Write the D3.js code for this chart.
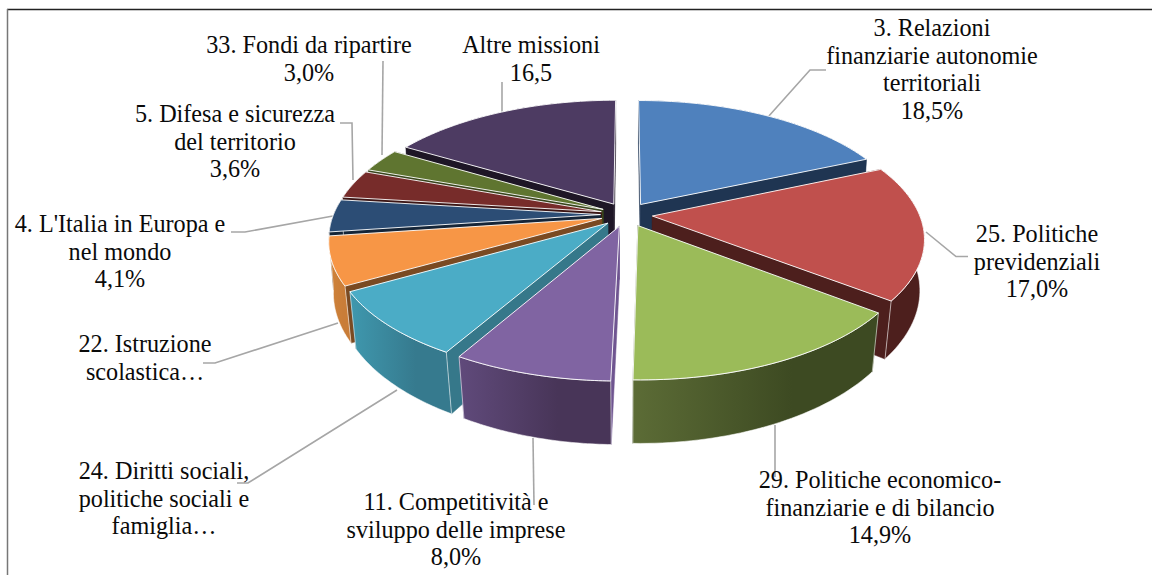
<!DOCTYPE html>
<html>
<head>
<meta charset="utf-8">
<style>
  html, body { margin: 0; padding: 0; background: #fff; overflow: hidden; }
  text { font-family: "Liberation Serif", serif; font-size: 24.2px; fill: #0a0a0a; }
</style>
<script src="https://cdn.jsdelivr.net/npm/d3@7"></script>
</head>
<body>
<div id="chart-area"></div>
<script>
// values in percent, clockwise from twelve o'clock
var categories = [
  "3. Relazioni finanziarie autonomie territoriali",
  "25. Politiche previdenziali",
  "29. Politiche economico-finanziarie e di bilancio",
  "11. Competitivita e sviluppo delle imprese",
  "24. Diritti sociali, politiche sociali e famiglia",
  "22. Istruzione scolastica",
  "4. L'Italia in Europa e nel mondo",
  "5. Difesa e sicurezza del territorio",
  "33. Fondi da ripartire",
  "Altre missioni"
];
var values = [18.5, 17.0, 14.9, 8.0, 8.45, 6.05, 4.1, 3.6, 3.0, 16.5];
var labelLines = [
  ["3. Relazioni", "finanziarie autonomie", "territoriali", "18,5%"],
  ["25. Politiche", "previdenziali", "17,0%"],
  ["29. Politiche economico-", "finanziarie e di bilancio", "14,9%"],
  ["11. Competitività e", "sviluppo delle imprese", "8,0%"],
  ["24. Diritti sociali,", "politiche sociali e", "famiglia…"],
  ["22. Istruzione", "scolastica…"],
  ["4. L'Italia in Europa e", "nel mondo", "4,1%"],
  ["5. Difesa e sicurezza", "del territorio", "3,6%"],
  ["33. Fondi da ripartire", "3,0%"],
  ["Altre missioni", "16,5"]
];

// styling, same order as the values
var topColors = ["#4f81bd", "#c0504d", "#9bbb59", "#8064a2", "#4bacc6", "#f79646", "#2c4d75", "#772c2a", "#5f7530", "#4d3b62"];
var sideFrom = ["#1f3552", "#4d1f1d", "#5c6c36", "#604a7b", "#3f98ae", "#d0833a", "#152538", "#3d1615", "#38461c", "#1e1626"];
var sideTo = ["#1f3552", "#4d1f1d", "#3d4a22", "#483558", "#367a8e", "#c97d38", "#152538", "#3d1615", "#38461c", "#1e1626"];
var cutColors = ["#1f3552", "#4d1f1d", "#3d4a22", "#6f5590", "#36788a", "#7a4a22", "#152538", "#3d1615", "#38461c", "#1e1626"];

// label placement: centre x, first baseline, leader polyline
var labelLayout = [
  { x: 932, y: 36, leader: [[768, 117], [810, 70], [826, 70]] },
  { x: 1037, y: 242, leader: [[926, 232], [956, 256.5], [968, 256.5]] },
  { x: 880, y: 488, leader: [[775, 425], [775, 477]] },
  { x: 456, y: 510, leader: [[533, 438], [534, 505]] },
  { x: 164, y: 479, leader: [[397, 390], [248, 483], [237, 483]] },
  { x: 145, y: 352, leader: [[338, 323], [215, 363], [203, 363]] },
  { x: 120, y: 232, leader: [[333, 216], [245, 232], [231, 232]] },
  { x: 235, y: 122, leader: [[353, 180], [352, 123], [340, 123]] },
  { x: 309, y: 53, leader: [[382, 155], [383, 61]] },
  { x: 531, y: 53, leader: [[502, 112], [502, 82]] }
];

var width = 1152, height = 575;
var lineHeight = 27.7;

// fake 3D: a disc seen in perspective
var cx = 626.5, cy = 214.5;
var radius = 267, explode = 26;
var tilt = 0.466, viewDist = 1600, depth = 52;

function project(X, Y, z) {
  var s = 1 / (1 + Y / viewDist);
  // the underside pulls in a little, more so towards the front
  var shrink = z * (0.012 + 0.018 * Math.max(0, -Y / radius));
  return [cx + X * s * (1 - shrink), cy - tilt * Y * s + z * depth * s];
}

function rimPoint(a, mid, r, z) {
  var X = r * Math.sin(a) + explode * Math.sin(mid);
  var Y = r * Math.cos(a) + explode * Math.cos(mid);
  return project(X, Y, z);
}

var svg = d3.select("#chart-area")
  .append("svg")
  .attr("width", width)
  .attr("height", height)
  .style("display", "block");

svg.append("line").attr("x1", 7).attr("y1", 9.5).attr("x2", width).attr("y2", 9.5)
  .attr("stroke", "#222").attr("stroke-width", 1.5);
svg.append("line").attr("x1", 7.5).attr("y1", 9).attr("x2", 7.5).attr("y2", height)
  .attr("stroke", "#777").attr("stroke-width", 1.5);

var pie = d3.pie().sort(null).startAngle(0).endAngle(2 * Math.PI);
var arcs = pie(values);
var line = d3.line();
var defs = svg.append("defs");

function arcPoints(d, z) {
  var mid = (d.startAngle + d.endAngle) / 2;
  return d3.range(0, 41).map(i => {
    var a = d.startAngle + (d.endAngle - d.startAngle) * i / 40;
    return rimPoint(a, mid, radius, z);
  });
}

// leader lines go under the pie
svg.append("g").selectAll("path")
  .data(labelLayout)
  .enter().append("path")
  .attr("d", d => line(d.leader))
  .attr("fill", "none")
  .attr("stroke", "#a6a6a6")
  .attr("stroke-width", 1.6);

// back slices first
var order = d3.range(arcs.length);
order.sort((a, b) => {
  var ma = (arcs[a].startAngle + arcs[a].endAngle) / 2;
  var mb = (arcs[b].startAngle + arcs[b].endAngle) / 2;
  return Math.cos(mb) - Math.cos(ma);
});

var pieG = svg.append("g");

order.forEach(i => {
  var d = arcs[i];
  var mid = (d.startAngle + d.endAngle) / 2;
  var topArc = arcPoints(d, 0);
  var lowArc = arcPoints(d, 1);
  var apexTop = rimPoint(0, mid, 0, 0);
  var apexLow = rimPoint(0, mid, 0, 1);
  var g = pieG.append("g").attr("class", "slice");

  var grad = defs.append("linearGradient").attr("id", "side" + i);
  grad.append("stop").attr("offset", "0%").attr("stop-color", sideFrom[i]);
  grad.append("stop").attr("offset", "65%").attr("stop-color", sideTo[i]);

  function drawWall() {
    g.append("path")
      .attr("d", line(topArc.concat(lowArc.slice().reverse())) + "Z")
      .attr("fill", "url(#side" + i + ")")
      .attr("stroke", "#fff")
      .attr("stroke-opacity", 0.7)
      .attr("stroke-width", 0.8);
  }

  function drawCuts() {
    [[topArc[0], lowArc[0]], [topArc[40], lowArc[40]]].forEach(e => {
      g.append("path")
        .attr("d", line([apexTop, e[0], e[1], apexLow]) + "Z")
        .attr("fill", cutColors[i])
        .attr("stroke", cutColors[i])
        .attr("stroke-width", 0.5);
    });
  }

  // the wall of a back slice faces away, so its cut faces go over it
  if (Math.cos(mid) > 0) {
    drawWall();
    drawCuts();
  } else {
    drawCuts();
    drawWall();
  }

  // top face
  g.append("path")
    .attr("d", line([apexTop].concat(topArc)) + "Z")
    .attr("fill", topColors[i])
    .attr("stroke", "#fff")
    .attr("stroke-opacity", 0.9)
    .attr("stroke-width", 1);
});

var labels = svg.append("g").selectAll("text")
  .data(labelLines)
  .enter().append("text")
  .attr("text-anchor", "middle");

labels.selectAll("tspan")
  .data((d, i) => d.map((t, j) => ({ t: t, x: labelLayout[i].x, y: labelLayout[i].y + j * lineHeight })))
  .enter().append("tspan")
  .attr("x", d => d.x)
  .attr("y", d => d.y)
  .text(d => d.t);
</script>
</body>
</html>
